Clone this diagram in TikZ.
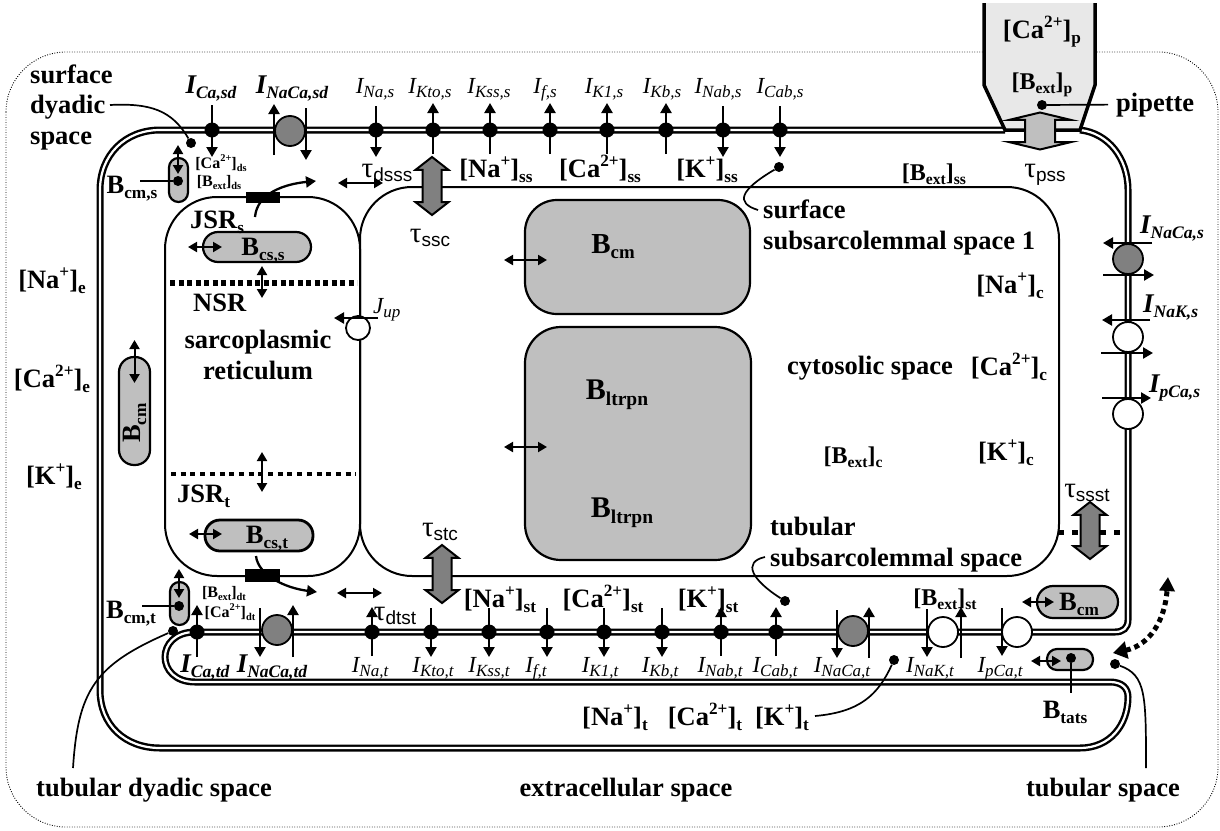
\documentclass[tikz,border=0pt]{standalone}
\usepackage{fontspec}
\setmainfont{Liberation Serif}
\setsansfont{Liberation Sans}
\usetikzlibrary{arrows.meta,shapes.arrows}

\makeatletter
\newcommand{\upt}[1]{\raisebox{.40em}{\fontsize{\fpeval{\f@size*.65}}{1}\selectfont #1}}
\newcommand{\dnt}[2][.65]{\raisebox{-.2em}{\fontsize{\fpeval{\f@size*#1}}{1}\selectfont #2}}
\makeatother
\newcommand{\cur}[1]{I\dnt[.74]{#1}}
\newcommand{\curb}[1]{I\dnt[.65]{#1}}
\newcommand{\taulab}[1]{τ\raisebox{-.16em}{\sffamily\fontsize{19}{19}\selectfont #1}}

\begin{document}
\begin{tikzpicture}[
    x=1pt, y=-1pt,
    cellbox/.style={line width=.9pt, dash pattern=on .9pt off 1.6pt, rounded corners=60pt},
    membrane/.style={double, line width=2.4pt, double distance=2.2pt},
    sacwall/.style={draw, line width=2pt, rounded corners=52pt},
    bigbuf/.style={draw, line width=2.2pt, fill=black!25},
    capsule/.style={draw, line width=2.2pt, fill=black!25, inner sep=0pt},
    pore/.style={circle, fill=black, minimum size=15pt, inner sep=0pt},
    spot/.style={circle, fill=black, minimum size=10pt, inner sep=0pt},
    pump/.style={circle, draw, line width=1.8pt, fill=black!50, minimum size=30pt, inner sep=0pt},
    wpump/.style={pump, fill=white},
    ryr/.style={fill=black, inner sep=0pt},
    ionflow/.style={line width=2.3pt, -{Triangle[length=10pt,width=11pt]}},
    twoway/.style={line width=2pt, {Triangle[length=9pt,width=10pt]}-{Triangle[length=9pt,width=10pt]}},
    pointer/.style={line width=1.7pt},
    sep/.style={line width=5.5pt, dash pattern=on 5pt off 3.5pt},
    flux/.style={shape=double arrow, draw, line width=2pt, fill=black!50, rotate=90, inner sep=0pt,
        text height=17pt, text depth=0pt, minimum width=31pt, double arrow head extend=7pt, double arrow tip angle=104},
    conc/.style={font=\fontsize{26.5}{30.5}\selectfont\bfseries, anchor=base, inner sep=0pt},
    minor/.style={font=\fontsize{24}{28}\selectfont\bfseries, anchor=base, inner sep=0pt},
    tiny/.style={font=\fontsize{16}{18}\selectfont\bfseries, anchor=base, inner sep=0pt},
    curlab/.style={font=\fontsize{23}{26}\selectfont\itshape, anchor=base, inner sep=0pt},
    curbold/.style={font=\fontsize{27}{30}\selectfont\bfseries\itshape, anchor=base, inner sep=0pt},
    taumark/.style={font=\fontsize{29}{30}\selectfont, anchor=base, inner sep=0pt}
]
\useasboundingbox (0,0) rectangle (1220,830);

% Extracellular boundary
\draw[cellbox] (6,52) rectangle (1218,827);

% Sarcolemma with the tubule
\draw[membrane] (1080,130) .. controls (1108,133) and (1128,158) .. (1128,190) -- (1128,620)
    .. controls (1128,628) and (1123,632) .. (1115,632) -- (195,632)
    .. controls (155,632) and (155,682) .. (195,682) -- (1110,682)
    .. controls (1122,682) and (1128,688) .. (1128,697)
    .. controls (1128,725) and (1110,748) .. (1080,748) -- (160,748)
    .. controls (125,748) and (100,725) .. (100,690) -- (100,190)
    .. controls (100,155) and (125,130) .. (160,130) -- (1005,130);

% Pipette
\fill[black!9] (984,3) -- (984,85) -- (1005,130) -- (1080,130) -- (1095,85) -- (1095,3) -- cycle;
\draw[line width=3.5pt] (984,3) -- (984,85) -- (1005,130) -- (1080,130) -- (1095,85) -- (1095,3);
\node[conc] (cap) at (1042,38) {[Ca\upt{2+}]\dnt{p}};
\node[minor] (bextp) at (1042,89) {[B\dnt{ext}]\dnt{p}};
\node[spot] (pipdot) at (1042,105) {};
\node[conc, anchor=base west] (pipette) at (1116,111) {pipette};
\draw[pointer] (pipdot) -- ([xshift=-8pt]pipette.west);
\node[flux, fill=black!25, text height=28pt, minimum height=37pt, minimum width=60pt, double arrow head extend=16pt, double arrow tip angle=153] (fpss) at (1040,131) {};
\node[taumark] (tpss) at (1045,177) {\taulab{pss}};

% Sarcoplasmic reticulum and subsarcolemmal space
\draw[sacwall] (165,576) rectangle (360,197);
\draw[sacwall] (360,576) rectangle (1059,187);

% Large buffers
\node[bigbuf, rounded corners=32pt, minimum width=225pt, minimum height=114pt] (bcmc) at (637.5,257) {};
\node[bigbuf, rounded corners=36pt, minimum width=226pt, minimum height=233pt] (bltrpn) at (638,443.5) {};
\node[conc, font=\fontsize{29}{30}\selectfont\bfseries] (bcmtxt) at (613,253) {B\dnt{cm}};
\node[conc, font=\fontsize{30}{30}\selectfont\bfseries] (ltrpna) at (617,399) {B\dnt{ltrpn}};
\node[conc, font=\fontsize{30}{30}\selectfont\bfseries] (ltrpnb) at (622,517) {B\dnt{ltrpn}};

% Channels on the top of the cell
\node[pore] (casd) at (212,130) {};
\draw[ionflow] ([yshift=25pt]casd.center) -- ([yshift=-27pt]casd.center);
\node[curbold] (lcasd) at (211,93) {\curb{Ca,sd}};
\node[pump] (ncxsd) at (290,131) {};
\draw[ionflow] ([xshift=-16pt,yshift=-24pt]ncxsd.center) -- ([xshift=-16pt,yshift=27pt]ncxsd.center);
\draw[ionflow] ([xshift=16pt,yshift=23pt]ncxsd.center) -- ([xshift=16pt,yshift=-29pt]ncxsd.center);
\node[curbold] (lncxsd) at (292,93) {\curb{NaCa,sd}};
\foreach \nm/\px/\sgn/\txt/\lx in {Nas/376/1/{Na,s}/375, Ktos/433/-1/{Kto,s}/430, Ksss/490/-1/{Kss,s}/489, fs/550/-1/{f,s}/545,
    Kones/607/-1/{K1,s}/604, Kbs/666/-1/{Kb,s}/662, Nabs/723/1/{Nab,s}/718, Cabs/780/1/{Cab,s}/780} {
    \node[pore] (\nm) at (\px,130) {};
    \draw[ionflow] ([yshift=\sgn*24pt]\nm.center) -- ([yshift=-\sgn*27pt]\nm.center);
    \node[curlab] (l\nm) at (\lx,93) {\cur{\txt}};
}

% Channels on the tubule
\node[pore] (catd) at (197,632) {};
\draw[ionflow] ([yshift=-25pt]catd.center) -- ([yshift=27pt]catd.center);
\node[curbold] (lcatd) at (205,672) {\curb{Ca,td}};
\node[pump] (ncxtd) at (277,630) {};
\draw[ionflow] ([xshift=-17pt,yshift=22pt]ncxtd.center) -- ([xshift=-17pt,yshift=-27pt]ncxtd.center);
\draw[ionflow] ([xshift=16pt,yshift=-27pt]ncxtd.center) -- ([xshift=16pt,yshift=25pt]ncxtd.center);
\node[curbold] (lncxtd) at (272,672) {\curb{NaCa,td}};
\foreach \nm/\px/\sgn/\txt/\lx in {Nat/372/-1/{Na,t}/370, Ktot/431/1/{Kto,t}/433, Ksst/489/1/{Kss,t}/489, ft/547/1/{f,t}/536,
    Konet/604/1/{K1,t}/600, Kbt/662/1/{Kb,t}/660, Nabt/721/-1/{Nab,t}/720, Cabt/776/-1/{Cab,t}/775} {
    \node[pore] (\nm) at (\px,632) {};
    \draw[ionflow] ([yshift=\sgn*24pt]\nm.center) -- ([yshift=-\sgn*25pt]\nm.center);
    \node[curlab] (l\nm) at (\lx,672) {\cur{\txt}};
}
\node[pump] (ncxt) at (853,631) {};
\draw[ionflow] ([xshift=-16pt,yshift=21pt]ncxt.center) -- ([xshift=-16pt,yshift=-27pt]ncxt.center);
\draw[ionflow] ([xshift=16pt,yshift=-27pt]ncxt.center) -- ([xshift=16pt,yshift=24pt]ncxt.center);
\node[curlab] (lncxt) at (842,672) {\cur{NaCa,t}};
\node[wpump] (nakt) at (943,632) {};
\draw[ionflow] ([xshift=-16pt,yshift=23pt]nakt.center) -- ([xshift=-16pt,yshift=-25pt]nakt.center);
\draw[ionflow] ([xshift=18pt,yshift=-26pt]nakt.center) -- ([xshift=18pt,yshift=25pt]nakt.center);
\node[curlab] (lnakt) at (930,672) {\cur{NaK,t}};
\node[wpump] (pcat) at (1017,632) {};
\draw[ionflow] ([xshift=-15pt,yshift=24pt]pcat.center) -- ([xshift=-15pt,yshift=-24pt]pcat.center);
\node[curlab] (lpcat) at (1000,672) {\cur{pCa,t}};

% Pumps on the right side
\node[pump] (ncxs) at (1128,259) {};
\draw[ionflow] ([xshift=24pt,yshift=16pt]ncxs.center) -- ([xshift=-25pt,yshift=16pt]ncxs.center);
\draw[ionflow] ([xshift=-25pt,yshift=-16pt]ncxs.center) -- ([xshift=26pt,yshift=-16pt]ncxs.center);
\node[curbold, anchor=base west] (lncxs) at (1140,233) {\curb{NaCa,s}};
\node[wpump] (naks) at (1128,337) {};
\draw[ionflow] ([xshift=22pt,yshift=17pt]naks.center) -- ([xshift=-26pt,yshift=17pt]naks.center);
\draw[ionflow] ([xshift=-27pt,yshift=-16pt]naks.center) -- ([xshift=25pt,yshift=-16pt]naks.center);
\node[curbold, anchor=base west] (lnaks) at (1143,312) {\curb{NaK,s}};
\node[wpump] (pcas) at (1128,414) {};
\draw[ionflow] ([xshift=-26pt,yshift=16pt]pcas.center) -- ([xshift=23pt,yshift=16pt]pcas.center);
\node[curbold, anchor=base west] (lpcas) at (1149,392) {\curb{pCa,s}};

% Release channels
\node[ryr, minimum width=34pt, minimum height=11pt] (ryrs) at (263,197.5) {};
\coordinate (ryrsa) at (255,217);
\coordinate (ryrsb) at (316,181);
\draw[ionflow] (ryrsa) .. controls (257,193) and (285,184) .. (ryrsb);
\node[ryr, minimum width=35pt, minimum height=13pt] (ryrt) at (262.5,575.5) {};
\coordinate (ryrta) at (256,556);
\coordinate (ryrtb) at (317,592);
\draw[ionflow] (ryrta) .. controls (258,575) and (285,588) .. (ryrtb);

% SERCA
\node[wpump, minimum size=24pt] (serca) at (358,328) {};
\draw[ionflow] ([xshift=20pt,yshift=10pt]serca.center) -- ([xshift=-24pt,yshift=10pt]serca.center);
\node[curlab, anchor=base west] (ljup) at (373,313) {J\dnt[.74]{up}};

% Barriers inside the cell
\coordinate (nsra) at (170,283);
\coordinate (nsrb) at (357,283);
\draw[sep] (nsra) -- (nsrb);
\coordinate (jsra) at (171,474);
\coordinate (jsrb) at (356,474);
\draw[sep, line width=4.5pt, dash pattern=on 5pt off 4.7pt] (jsra) -- (jsrb);
\coordinate (ssta) at (1058,532);
\coordinate (sstb) at (1126,532);
\draw[sep, line width=5pt, dash pattern=on 6pt off 8pt] (ssta) -- (sstb);

% Small buffers
\node[capsule, rounded corners=9.5pt, minimum width=19pt, minimum height=44pt] (bcmscap) at (178.5,180) {};
\node[spot] (bcmsdot) at (178,181) {};
\node[conc] (bcms) at (132,193) {B\dnt{cm,s}};
\coordinate (bcmsend) at (140,181);
\draw[pointer] (bcmsend) -- (bcmsdot);
\node[capsule, rounded corners=9.5pt, minimum width=19pt, minimum height=43pt] (bcmtcap) at (179.5,603.5) {};
\node[spot] (bcmtdot) at (179,606) {};
\node[conc] (bcmt) at (131,618) {B\dnt{cm,t}};
\coordinate (bcmtend) at (142,606);
\draw[pointer] (bcmtend) -- (bcmtdot);
\node[capsule, rounded corners=15pt, minimum width=31pt, minimum height=108pt] (bcme) at (134.5,411) {};
\node[conc, rotate=90, anchor=center] (bcmetxt) at (135,423) {B\dnt{cm}};
\node[capsule, rounded corners=15pt, minimum width=108pt, minimum height=30pt] (bcss) at (257,247) {};
\node[conc] (bcsstxt) at (263,255) {B\dnt{cs,s}};
\node[capsule, line width=2.8pt, rounded corners=15pt, minimum width=108pt, minimum height=31pt] (bcst) at (259,535.5) {};
\node[conc] (bcsttxt) at (267,543) {B\dnt{cs,t}};
\node[capsule, rounded corners=16pt, minimum width=81pt, minimum height=32pt] (bcmr) at (1077.5,602) {};
\node[conc] (bcmrtxt) at (1079,610) {B\dnt{cm}};
\node[capsule, rounded corners=10pt, minimum width=46pt, minimum height=21pt] (btats) at (1070,659.5) {};
\node[spot] (btatsdot) at (1071,658) {};
\node[conc] (btatstxt) at (1065,718) {B\dnt{tats}};
\coordinate (btatsend) at (1071,693);
\draw[pointer] (btatsdot) -- (btatsend);

% Two-way arrows
\foreach \nm/\xa/\ya/\xb/\yb in {adsss/338/183/383/183, adtst/337/593/382/593, abcms/178/145/178/174, abcmt/179/569/179/598,
    abcme/134.5/340/134.5/383, abcss/188/247/222/247, absn/262/266/262/298, ajsr/262/452/262/492, abcst/189/534/222/534,
    abcmc/504/260/547/260, altrpn/504/447/547/447, abcmr/1022/602/1054/602, atats/1031/661/1061/661} {
    \coordinate (\nm a) at (\xa,\ya);
    \coordinate (\nm b) at (\xb,\yb);
    \draw[twoway] (\nm a) -- (\nm b);
}

% Time constant arrows
\node[flux, minimum height=58pt] (fssc) at (432,186) {};
\node[flux, minimum height=58pt] (fstc) at (442,574) {};
\node[flux, minimum height=57pt] (fsst) at (1090,530.5) {};
\node[taumark] (tdsss) at (387,177) {\taulab{dsss}};
\node[taumark] (tssc) at (430,242) {\taulab{ssc}};
\node[taumark] (tstc) at (440,536) {\taulab{stc}};
\node[taumark] (tdtst) at (395,620) {\taulab{dtst}};
\node[taumark] (tssst) at (1087,497) {\taulab{ssst}};

% Concentrations
\node[conc] (nae) at (52,288) {[Na\upt{+}]\dnt{e}};
\node[conc] (cae) at (52,387) {[Ca\upt{2+}]\dnt{e}};
\node[conc] (ke) at (54,484) {[K\upt{+}]\dnt{e}};
\node[tiny] (cads) at (221,168) {[Ca\upt{2+}]\dnt{ds}};
\node[tiny] (bextds) at (219,186) {[B\dnt{ext}]\dnt{ds}};
\node[tiny] (bextdt) at (224,597) {[B\dnt{ext}]\dnt{dt}};
\node[tiny] (cadt) at (230,617) {[Ca\upt{2+}]\dnt{dt}};
\node[conc] (nass) at (496,177) {[Na\upt{+}]\dnt{ss}};
\node[conc] (cass) at (600,177) {[Ca\upt{2+}]\dnt{ss}};
\node[conc] (kss) at (707,177) {[K\upt{+}]\dnt{ss}};
\node[minor] (bextss) at (934,180) {[B\dnt{ext}]\dnt{ss}};
\node[conc] (nast) at (500,607) {[Na\upt{+}]\dnt{st}};
\node[conc] (cast) at (603,607) {[Ca\upt{2+}]\dnt{st}};
\node[conc] (kst) at (708,607) {[K\upt{+}]\dnt{st}};
\node[minor] (bextst) at (945,605) {[B\dnt{ext}]\dnt{st}};
\node[conc] (nat) at (615,725) {[Na\upt{+}]\dnt{t}};
\node[conc] (cat) at (705,725) {[Ca\upt{2+}]\dnt{t}};
\node[conc] (kt) at (782,725) {[K\upt{+}]\dnt{t}};
\node[conc] (nac) at (1010,293) {[Na\upt{+}]\dnt{c}};
\node[conc] (cac) at (1009,375) {[Ca\upt{2+}]\dnt{c}};
\node[conc] (kc) at (1006,460) {[K\upt{+}]\dnt{c}};
\node[minor] (bextc) at (853,463) {[B\dnt{ext}]\dnt{c}};

% Compartment names
\node[conc, anchor=base west, align=left] (sdyad) at (30,144) {surface\\dyadic\\space};
\node[conc, anchor=base west] (jsrs) at (190,228) {JSR\dnt{s}};
\node[conc, anchor=base west] (nsr) at (193,311) {NSR};
\node[conc] (sr) at (258,348) {sarcoplasmic};
\node[conc] (ret) at (258,379) {reticulum};
\node[conc, anchor=base west] (jsrt) at (177,502) {JSR\dnt{t}};
\node[conc, anchor=base west] (surf) at (763,218) {surface};
\node[conc, anchor=base west] (ssub) at (763,249) {subsarcolemmal space 1};
\node[conc] (cyto) at (870,374) {cytosolic space};
\node[conc, anchor=base west] (tub) at (770,535) {tubular};
\node[conc, anchor=base west] (tsub) at (770,566) {subsarcolemmal space};
\node[conc] (tdyad) at (154,796) {tubular dyadic space};
\node[conc] (extra) at (626,796) {extracellular space};
\node[conc] (tspace) at (1103,796) {tubular space};

% Pointers to the compartments
\node[spot] (dsdot) at (191,143) {};
\coordinate (dsend) at (110,105);
\draw[pointer] (dsend) .. controls (150,103) and (172,110) .. (dsdot);
\node[spot] (ssdot) at (779,167) {};
\coordinate (ssend) at (758,210);
\draw[pointer] (ssend) .. controls (735,203) and (740,190) .. (ssdot);
\node[spot] (stdot) at (785,601) {};
\coordinate (stend) at (765,557);
\draw[pointer] (stend) .. controls (742,562) and (752,580) .. (stdot);
\node[spot] (tdot) at (894,660) {};
\coordinate (tend) at (815,716);
\draw[pointer] (tend) .. controls (860,712) and (878,695) .. (tdot);
\node[spot] (tddot) at (173,631) {};
\coordinate (tdend) at (73,768);
\draw[pointer] (tdend) .. controls (78,690) and (95,665) .. (tddot);
\node[spot] (tsdot) at (1115,664) {};
\coordinate (tsend) at (1146,768);
\draw[pointer] (tsend) .. controls (1146,695) and (1146,675) .. (tsdot);

% Diffusion along the tubule
\coordinate (tuba) at (1113,653);
\coordinate (tubb) at (1168,577);
\draw[line width=5pt, dash pattern=on 5pt off 4pt, {Triangle[length=14pt,width=17pt]}-{Triangle[length=14pt,width=15pt]}] (tuba) .. controls (1150,645) and (1165,620) .. (tubb);

\end{tikzpicture}
\end{document}
